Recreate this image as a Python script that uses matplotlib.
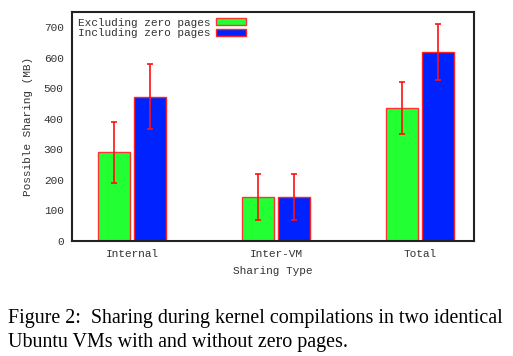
import numpy as np
import matplotlib.pyplot as plt

categories = ["Internal", "Inter-VM", "Total"]
excl_vals = [290, 145, 436]
excl_err_lo = [190, 70, 350]
excl_err_hi = [390, 220, 522]
incl_vals = [472, 145, 619]
incl_err_lo = [366, 70, 528]
incl_err_hi = [580, 220, 710]

mono = "Liberation Mono"
fig = plt.figure(figsize=(5.13, 3.56), dpi=100)
ax = fig.add_axes([72 / 513, 115 / 356, 402 / 513, 229 / 356])

x = np.arange(len(categories))
w = 0.222
off = 0.124

e1 = np.array(excl_vals)
e2 = np.array(incl_vals)
err1 = [e1 - np.array(excl_err_lo), np.array(excl_err_hi) - e1]
err2 = [e2 - np.array(incl_err_lo), np.array(incl_err_hi) - e2]

ax.bar(x - off, e1, w, color="#22ff33", edgecolor="#ff3333", linewidth=1.0,
       label="Excluding zero pages")
ax.bar(x + off, e2, w, color="#0022ff", edgecolor="#ff2222", linewidth=1.0,
       label="Including zero pages")
ax.errorbar(x - off, e1, yerr=err1, fmt="none", ecolor="#ff1111", elinewidth=1.2,
            capsize=2.5, capthick=1.2)
ax.errorbar(x + off, e2, yerr=err2, fmt="none", ecolor="#ff1111", elinewidth=1.2,
            capsize=2.5, capthick=1.2)

ax.set_xlim(-0.417, 2.375)
ax.set_ylim(0, 750)
ax.set_yticks(range(0, 701, 100))
ax.set_xticks(x)
ax.set_xticklabels(categories)
ax.tick_params(length=0, labelsize=8, pad=6)
for lab in ax.get_xticklabels() + ax.get_yticklabels():
    lab.set_fontfamily(mono)
    lab.set_color("#333333")
for s in ax.spines.values():
    s.set_linewidth(1.5)
    s.set_color("#222222")

ax.set_ylabel("Possible Sharing (MB)", fontfamily=mono, fontsize=8, color="#333333", labelpad=8)
ax.set_xlabel("Sharing Type", fontfamily=mono, fontsize=8, color="#333333", labelpad=5)

leg = ax.legend(loc="upper left", frameon=False, markerfirst=False,
                prop={"family": mono, "size": 8}, handlelength=2.7, handleheight=0.55,
                labelspacing=0.05, borderaxespad=0.4, handletextpad=0.5,
                borderpad=0.1)
for t in leg.get_texts():
    t.set_color("#333333")

fig.text(8 / 513, 1 - 318 / 356, "Figure 2:  Sharing during kernel compilations in two identical",
         fontfamily="Liberation Serif", fontsize=14.4, va="center", ha="left")
fig.text(8 / 513, 1 - 342 / 356, "Ubuntu VMs with and without zero pages.",
         fontfamily="Liberation Serif", fontsize=14.4, va="center", ha="left")

fig.savefig("out.png", dpi=100)
